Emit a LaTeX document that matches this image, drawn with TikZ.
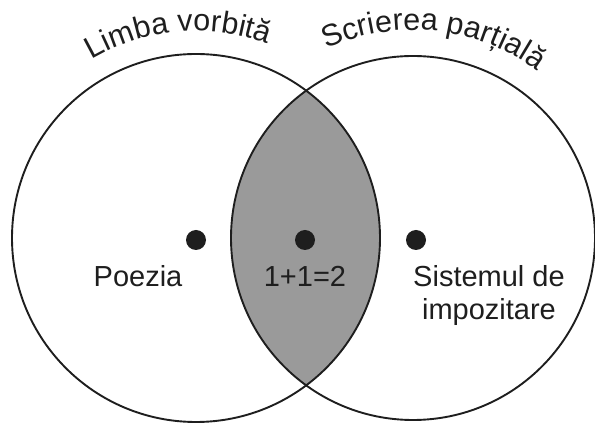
\documentclass[tikz,border=0pt]{standalone}
\usepackage{fontspec}
\setmainfont{Liberation Sans}
\usepackage{tikz}
\usetikzlibrary{positioning,decorations.text}
\definecolor{lensgray}{RGB}{154,154,154}
\definecolor{inkblack}{RGB}{30,30,30}
\pgfdeclarelayer{background}
\pgfsetlayers{background,main}
\tikzset{
  vennpic/.style={
    x=1pt,y=1pt
    ,inner sep=0pt
    ,outer sep=0pt
  }
  ,setcircle/.style={circle,draw=inkblack,line width=1.9pt,minimum size=#1}
  ,elemdot/.style={circle,fill=inkblack,minimum size=20pt}
  ,elemname/.style={
    font=\fontsize{29}{33}\selectfont\color{inkblack}
    ,align=center
    ,anchor=base
  }
  ,setname/.style={
    decorate
    ,decoration={text along path,text align=center
      ,text={|\fontsize{30.5}{34}\selectfont\color{inkblack}|#1}}
  }
}

\begin{document}
\begin{tikzpicture}[vennpic]
    \useasboundingbox (0,0) rectangle (595,423);
    % the two sets
    \node[setcircle=368pt] (vorbita) at (196,185) {};
    \node[setcircle=364pt] (partiala) at (413,185) {};
    \begin{pgfonlayer}{background}
      \begin{scope}
        \clip (vorbita.center) circle[radius=184];
        \fill[lensgray] (partiala.center) circle[radius=182];
      \end{scope}
    \end{pgfonlayer}
    % set names along the rims
    \path[setname={Limba vorbită}]
      (vorbita.center) ++(152:207) arc[start angle=152,end angle=38,radius=207];
    \path[setname={Scrierea parțială}]
      (partiala.center) ++(142:208) arc[start angle=142,end angle=26,radius=208];
    % elements
    \node[elemdot] (poezia) at (196,183) {};
    \node[elemdot] (suma) at (305,183) {};
    \node[elemdot] (sistem) at (416,183) {};
    \node[elemname] (poezianm) at (138,136) {Poezia};
    \node[elemname] (sumanm) at (305,136) {1+1=2};
    \node[elemname] (sistemnm) at (489,103) {Sistemul de\\impozitare};
  \end{tikzpicture}
\end{document}
